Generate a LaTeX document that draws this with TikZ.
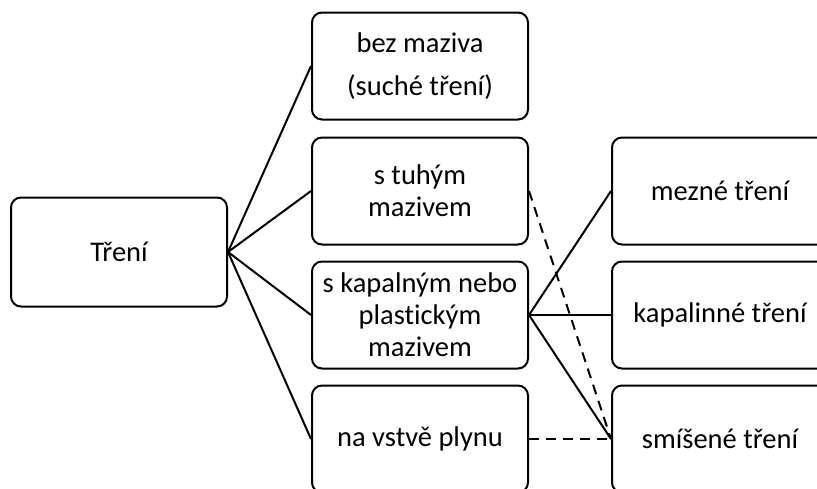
\documentclass[tikz,border=0pt]{standalone}
\usepackage{fontspec}
\setmainfont{Carlito}[Ligatures=NoCommon]
\usepackage{tikz}
\usetikzlibrary{positioning}

\begin{document}
\begin{tikzpicture}[
  x=1pt, y=-1pt,
  box/.style={rectangle, rounded corners=10pt, draw=black, line width=2pt, fill=white, align=center, font=\fontsize{28.5}{32}\selectfont, minimum width=216pt, minimum height=107pt, inner sep=2pt},
  link/.style={draw=black, line width=2pt},
  dashlink/.style={draw=black, line width=2pt, dash pattern=on 10pt off 7pt}
]
  \useasboundingbox (0,0) rectangle (817,488);
  \clip (0,0) rectangle (817,488);
  % first level
  \node[box, minimum height=109pt] (treni) at (119,252) {Tření};
  % second level
  \node[box] (bez) at (420,66) {bez maziva\\[11pt](suché tření)};
  \node[box] (tuhy) at (420,191) {s tuhým\\mazivem};
  \node[box] (kapal) at (420,315) {s kapalným nebo\\plastickým\\mazivem};
  \node[box] (plyn) at (420,439) {na vstvě plynu};
  % third level
  \node[box] (mezne) at (720,191) {mezné tření};
  \node[box] (kapalin) at (720,315) {kapalinné tření};
  \node[box] (smis) at (720,439) {smíšené tření};
  % connectors
  \foreach \n in {bez,tuhy,kapal,plyn}
    \draw[link] (treni.east) -- (\n.west);
  \foreach \n in {mezne,kapalin,smis}
    \draw[link] (kapal.east) -- (\n.west);
  \draw[dashlink] (tuhy.east) -- (smis.west);
  \draw[dashlink] (plyn.east) -- (smis.west);
\end{tikzpicture}
\end{document}
